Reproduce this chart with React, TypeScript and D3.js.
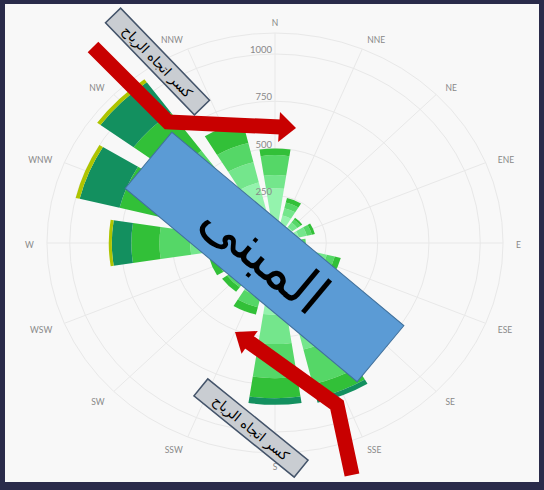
import React from 'react';
import * as d3 from 'd3';

// Wind directions (compass order, clockwise from N)
const directions = ['N', 'NNE', 'NE', 'ENE', 'E', 'ESE', 'SE', 'SSE', 'S', 'SSW', 'SW', 'WSW', 'W', 'WNW', 'NW', 'NNW'];

// Stacked series (inner to outer), values per direction
const band1 = [290, 150, 105, 120, 100, 200, 250, 380, 380, 220, 180, 180, 300, 200, 270, 330];
const band2 = [70, 40, 30, 40, 30, 60, 80, 200, 155, 70, 60, 60, 113, 150, 150, 110];
const band3 = [105, 30, 20, 25, 20, 40, 60, 190, 180, 60, 50, 55, 150, 200, 185, 105];
const band4 = [35, 25, 10, 15, 0, 30, 30, 75, 106, 40, 30, 35, 137, 230, 250, 115];
const band5 = [0, 0, 0, 0, 0, 0, 0, 25, 35, 0, 0, 0, 95, 200, 200, 0];
const band6 = [0, 0, 0, 0, 0, 0, 0, 0, 0, 0, 0, 0, 15, 20, 20, 0];

const bandKeys = ['b1', 'b2', 'b3', 'b4', 'b5', 'b6'];
const bandColors = ['#94f3ad', '#74e68c', '#55d767', '#32c038', '#13905f', '#aec400'];

// Radial axis ticks
const radialTicks = [250, 500, 750, 1000];
const radialMax = 1111;

const buildingLabel = 'المبنى';
const windLabel = 'كسر اتجاه الرياح';

export default function App() {
  const W = 544;
  const H = 490;
  const cx = 275;
  const cy = 243;
  const sx = 1.086; // horizontal stretch of the original picture

  const r = d3.scaleLinear().domain([0, 1000]).range([0, 189]);
  const step = (2 * Math.PI) / directions.length;
  const half = (8.7 * Math.PI) / 180;

  const rows = directions.map((d, i) => ({
    dir: d,
    b1: band1[i],
    b2: band2[i],
    b3: band3[i],
    b4: band4[i],
    b5: band5[i],
    b6: band6[i],
  }));
  const stacked = d3.stack<any>().keys(bandKeys)(rows);

  const arc = d3.arc<any>();

  const labelR = 222;

  const redArrow = (pts: [number, number][], tip: [number, number], baseHalf: number, headLen: number) => {
    const last = pts[pts.length - 1];
    const prev = pts[pts.length - 2];
    const dx = last[0] - prev[0];
    const dy = last[1] - prev[1];
    const len = Math.hypot(dx, dy);
    const ux = dx / len;
    const uy = dy / len;
    const bx = tip[0] - ux * headLen;
    const by = tip[1] - uy * headLen;
    const px = -uy;
    const py = ux;
    const line = d3.line()(pts.slice(0, -1).concat([[bx + ux * 2, by + uy * 2]]));
    const head: [number, number][] = [
      [bx + px * baseHalf, by + py * baseHalf],
      tip,
      [bx - px * baseHalf, by - py * baseHalf],
    ];
    return (
      <g>
        <path d={line || ''} fill="none" stroke="#c80000" strokeWidth={15} strokeLinejoin="miter" />
        <path d={(d3.line()(head) || '') + 'Z'} fill="#c80000" />
      </g>
    );
  };

  return (
    <svg width={W} height={H} style={{ position: 'absolute', left: 0, top: 0 }}>
      <rect x={0} y={0} width={W} height={H} fill="#2a2b4a" />
      <rect x={5} y={4} width={W - 10} height={478} fill="#f8f8f8" />

      {/* grid */}
      <g transform={`translate(${cx},${cy}) scale(${sx},1)`}>
        {[...radialTicks, radialMax].map((v) => (
          <circle key={v} r={r(v)} fill="none" stroke="#e8e8e8" strokeWidth={1} vectorEffect="non-scaling-stroke" />
        ))}
        {directions.map((d, i) => {
          const a = i * step;
          return (
            <line
              key={d}
              x1={0}
              y1={0}
              x2={Math.sin(a) * r(radialMax)}
              y2={-Math.cos(a) * r(radialMax)}
              stroke="#e8e8e8"
              strokeWidth={1}
              vectorEffect="non-scaling-stroke"
            />
          );
        })}
        {/* bars */}
        {stacked.map((layer, li) => (
          <g key={layer.key} fill={bandColors[li]}>
            {layer.map((seg, i) => {
              if (seg[1] - seg[0] <= 0) return null;
              const a = i * step;
              return (
                <path
                  key={i}
                  d={
                    arc({
                      innerRadius: r(seg[0]),
                      outerRadius: r(seg[1]),
                      startAngle: a - half,
                      endAngle: a + half,
                    }) || ''
                  }
                />
              );
            })}
          </g>
        ))}
      </g>

      {/* radial axis labels */}
      {radialTicks.map((v) => (
        <text key={v} x={cx - 3} y={cy - r(v) - 1} textAnchor="end" fontFamily="Lato, sans-serif" fontSize={9.5} fill="#888">
          {v}
        </text>
      ))}

      {/* direction labels */}
      {directions.map((d, i) => {
        const a = i * step;
        const x = cx + Math.sin(a) * labelR * sx;
        const y = cy - Math.cos(a) * labelR + 5;
        const s = Math.sin(a);
        const anchor = Math.abs(s) < 0.01 ? 'middle' : s > 0 ? 'start' : 'end';
        return (
          <text key={d} x={x} y={y} textAnchor={anchor} fontFamily="Lato, sans-serif" fontSize={8.5} fill="#888">
            {d}
          </text>
        );
      })}

      {/* building */}
      <g transform="translate(264.5,257) rotate(39.8)">
        <rect x={-151} y={-36.5} width={302} height={73} fill="#5b9bd5" stroke="#41719c" strokeWidth={1} />
        <text x={0} y={18} textAnchor="middle" fontFamily="DejaVu Sans, sans-serif" fontSize={56} fill="#000">
          {buildingLabel}
        </text>
      </g>

      {/* wind arrows */}
      {redArrow([[93, 47], [168, 122], [280, 129]], [296, 128], 15, 17)}
      {redArrow([[352, 475], [337, 405], [250, 343]], [235, 332], 14, 18)}

      {/* wind labels */}
      <g transform="translate(157.5,61.5) rotate(46)">
        <rect x={-64} y={-10.5} width={128} height={21} fill="#c9cdd2" stroke="#44546a" strokeWidth={1.5} />
        <text x={0} y={5} textAnchor="middle" fontFamily="DejaVu Sans, sans-serif" fontSize={13.5} fill="#000">
          {windLabel}
        </text>
      </g>
      <g transform="translate(251,428) rotate(39)">
        <rect x={-64.5} y={-11} width={129} height={22} fill="#c9cdd2" stroke="#44546a" strokeWidth={1.5} />
        <text x={0} y={5} textAnchor="middle" fontFamily="DejaVu Sans, sans-serif" fontSize={13.5} fill="#000">
          {windLabel}
        </text>
      </g>
    </svg>
  );
}
